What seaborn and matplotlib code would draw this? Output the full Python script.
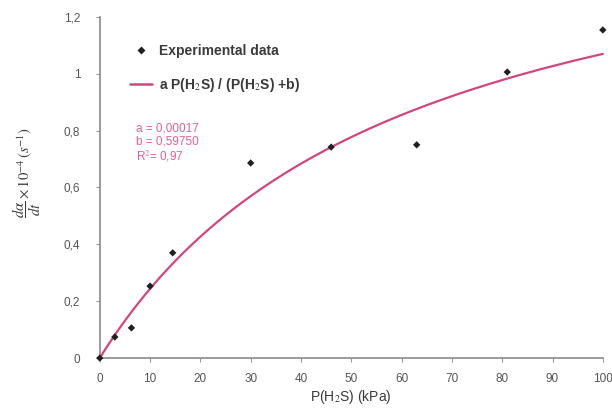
import numpy as np
import pandas as pd
import matplotlib
matplotlib.use("Agg")
import matplotlib.pyplot as plt
import seaborn as sns
from matplotlib.ticker import FuncFormatter
from matplotlib.lines import Line2D

# Experimental points: H2S partial pressure (kPa) and rate (x 10^-4 s^-1)
p_h2s = [0, 3, 6.3, 10, 14.5, 30, 46, 63, 81, 100]
rate = [0.0, 0.074, 0.106, 0.253, 0.37, 0.686, 0.742, 0.75, 1.006, 1.154]

# Saturation-type fit parameters (plot units)
VMAX = 1.716
K_HALF = 60.4

x_ticks = list(range(0, 101, 10))
y_ticks = [0, 0.2, 0.4, 0.6, 0.8, 1.0, 1.2]

sns.set_theme(style="white")
plt.rcParams["font.family"] = ["Liberation Sans", "DejaVu Sans"]
plt.rcParams["mathtext.fontset"] = "stix"

df = pd.DataFrame({"p": p_h2s, "r": rate})
p_fit = np.linspace(0, 100, 300)
fit = pd.DataFrame({"p": p_fit, "r": VMAX * p_fit / (K_HALF + p_fit)})

fig = plt.figure(figsize=(6.12, 4.12), dpi=100)
ax = fig.add_axes([0.163, 0.131, 0.822, 0.828])

pink = "#d2467f"
txt = "#3a3a3a"

sns.lineplot(data=fit, x="p", y="r", ax=ax, color=pink, lw=1.6, clip_on=False)
sns.scatterplot(data=df, x="p", y="r", ax=ax, marker="D", s=14, color="#202020",
                edgecolor="none", zorder=5, clip_on=False)

ax.set_xlim(0, 100)
ax.set_ylim(0, 1.2)
ax.set_xticks(x_ticks)
ax.set_yticks(y_ticks)
ax.yaxis.set_major_formatter(FuncFormatter(lambda v, _: f"{v:g}".replace(".", ",")))
ax.tick_params(axis="both", which="major", length=3, width=0.8, color="#999999",
               labelsize=8.5, labelcolor="#555555", left=True, bottom=True)
ax.tick_params(axis="y", pad=11)
ax.tick_params(axis="x", pad=8)

for side in ("top", "right"):
    ax.spines[side].set_visible(False)
for side in ("left", "bottom"):
    ax.spines[side].set_color("#8a8a8a")
    ax.spines[side].set_linewidth(1.2)

ax.set_xlabel("P(H$_2$S) (kPa)", fontsize=10, color=txt)
ax.xaxis.set_label_coords(0.5, -0.088)
ax.set_ylabel(r"$\dfrac{d\alpha}{dt}\times10^{-4}\,(s^{-1})$", fontsize=10.5,
              color=txt)
ax.yaxis.set_label_coords(-0.112, 0.545)

handles = [
    Line2D([0], [0], marker="D", color="none", markerfacecolor="#202020",
           markeredgecolor="none", markersize=4.5, label="Experimental data"),
    Line2D([0], [0], color=pink, lw=1.8,
           label="a P(H$_2$S) / (P(H$_2$S) +b)"),
]
leg = ax.legend(handles=handles, loc="upper left", bbox_to_anchor=(0.035, 0.957),
                frameon=False, prop={"size": 10, "weight": "bold"},
                handlelength=1.6, labelspacing=1.3, handletextpad=0.5)
for t in leg.get_texts():
    t.set_color(txt)

ax.text(0.072, 0.69, "a = 0,00017\nb = 0,59750\nR$^2$= 0,97", transform=ax.transAxes,
        fontsize=8.5, color="#e0609a", va="top", ha="left", linespacing=1.1)

fig.savefig("out.png", dpi=100)
